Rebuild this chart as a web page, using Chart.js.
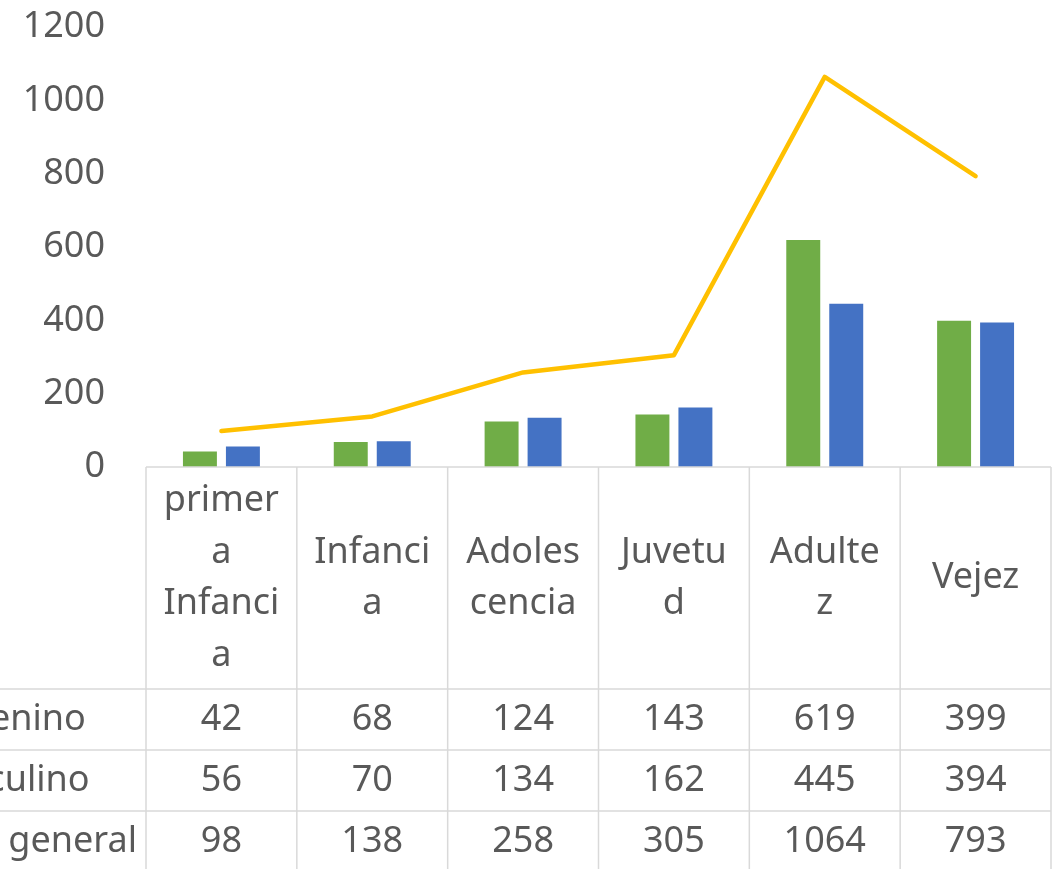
<!DOCTYPE html>
<html>
<head>
<meta charset="utf-8">
<script src="https://cdn.jsdelivr.net/npm/chart.js@4.4.1/dist/chart.umd.min.js"></script>
<style>
  html, body { margin: 0; padding: 0; background: #ffffff; }
  canvas { display: block; }
</style>
</head>
<body>
<canvas id="myChart" width="1060" height="869"></canvas>
<script>
// Chart data
const categories = ['primera Infancia', 'Infancia', 'Adolescencia', 'Juvetud', 'Adultez', 'Vejez'];
const headerLines = [['primer', 'a', 'Infanci', 'a'], ['Infanci', 'a'], ['Adoles', 'cencia'], ['Juvetu', 'd'], ['Adulte', 'z'], ['Vejez']];
const seriesNames = ['Femenino', 'Masculino', 'Total general'];
const femenino = [42, 68, 124, 143, 619, 399];
const masculino = [56, 70, 134, 162, 445, 394];
const totalGeneral = [98, 138, 258, 305, 1064, 793];
const yMax = 1200;
const yStep = 200;

const FONT = "'Comic Sans MS', 'Noto Sans', sans-serif";
const TEXT = '#595959';
const GRID = '#d9d9d9';

// Draws the data table under the plot, aligned to the x scale
const dataTable = {
    id: 'dataTable',
    afterDraw(chart) {
        const ctx = chart.ctx;
        const x = chart.scales.x;
        const area = chart.chartArea;
        const top = area.bottom;
        const headerH = 222;
        const rowH = 61;
        const bottom = chart.height + 5;
        const edges = [];
        for (let i = 0; i <= categories.length; i++) {
            edges.push(x.getPixelForValue(i - 0.5));
        }
        const rows = [femenino, masculino, totalGeneral];

        ctx.save();
        ctx.strokeStyle = GRID;
        ctx.lineWidth = 1.5;
        ctx.beginPath();
        ctx.moveTo(edges[0], top);
        ctx.lineTo(edges[edges.length - 1], top);
        edges.forEach(e => { ctx.moveTo(e, top); ctx.lineTo(e, bottom); });
        for (let r = 0; r < rows.length; r++) {
            const y = top + headerH + r * rowH;
            ctx.moveTo(0, y);
            ctx.lineTo(edges[edges.length - 1], y);
        }
        ctx.stroke();

        ctx.fillStyle = TEXT;
        ctx.font = '36px ' + FONT;
        ctx.textBaseline = 'middle';
        ctx.textAlign = 'center';

        // header (category names, wrapped)
        const lh = 51.5;
        headerLines.forEach((lines, i) => {
            const cx = x.getPixelForValue(i);
            const cy = top + headerH / 2 - (lines.length - 1) * lh / 2;
            lines.forEach((t, k) => ctx.fillText(t, cx, cy + k * lh));
        });

        // values
        rows.forEach((vals, r) => {
            const cy = top + headerH + r * rowH + rowH / 2;
            vals.forEach((v, i) => ctx.fillText(String(v), x.getPixelForValue(i), cy));
        });

        // row names (cut off at the left edge)
        ctx.textAlign = 'left';
        const x0 = 137 - ctx.measureText(seriesNames[2]).width;
        seriesNames.forEach((name, r) => {
            const cy = top + headerH + r * rowH + rowH / 2;
            ctx.fillText(name, x0, cy);
        });
        ctx.restore();
    }
};

const ctx = document.getElementById('myChart').getContext('2d');
new Chart(ctx, {
    type: 'bar',
    data: {
        labels: categories,
        datasets: [
            {
                type: 'line',
                label: seriesNames[2],
                data: totalGeneral,
                borderColor: '#FFC000',
                borderWidth: 4.5,
                pointRadius: 0,
                borderCapStyle: 'round',
                borderJoinStyle: 'round',
                tension: 0,
                order: 0
            },
            {
                label: seriesNames[0],
                data: femenino,
                backgroundColor: '#70AD47',
                order: 1
            },
            {
                label: seriesNames[1],
                data: masculino,
                backgroundColor: '#4472C4',
                order: 1
            }
        ]
    },
    options: {
        responsive: false,
        animation: false,
        categoryPercentage: 0.57,
        barPercentage: 0.79,
        layout: {
            padding: { top: 27, right: 9, bottom: 402, left: 0 }
        },
        plugins: {
            legend: { display: false },
            tooltip: { enabled: false }
        },
        scales: {
            x: {
                grid: { display: false, drawTicks: false },
                border: { display: false },
                ticks: { display: false },
                afterFit: s => { s.height = 0; }
            },
            y: {
                min: 0,
                max: yMax,
                grid: { display: false, drawTicks: false },
                border: { display: false },
                ticks: {
                    stepSize: yStep,
                    padding: 41,
                    color: TEXT,
                    font: { family: FONT, size: 36 },
                    callback: v => String(v)
                },
                afterFit: s => {
                    s.width = 146;
                    s.paddingTop = 0;
                    s.paddingBottom = 0;
                }
            }
        }
    },
    plugins: [dataTable]
});
</script>
</body>
</html>
